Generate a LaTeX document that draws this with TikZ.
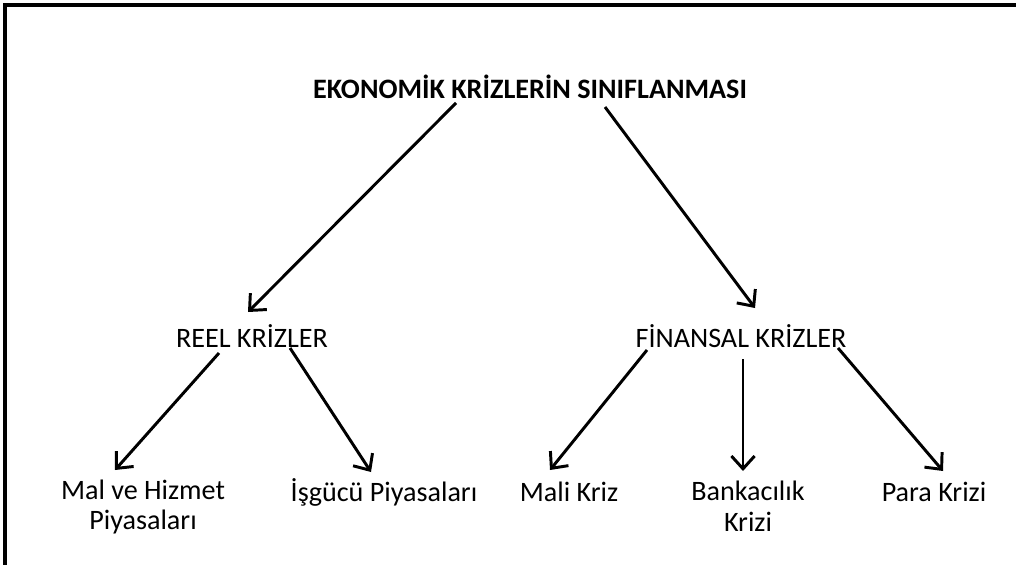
\documentclass[tikz,border=0pt]{standalone}
\usepackage{fontspec}
\setmainfont{Carlito}
\usepackage{tikz}
\usetikzlibrary{calc}
\usetikzlibrary{arrows.meta}

\tikzset{
	etiket/.style={font=\fontsize{20}{22}\selectfont, align=center, inner sep=0pt},
	ok/.style={line width=2.1pt, -{Straight Barb[length=3.2mm,width=5.8mm,line width=2.1pt]}}
}

\begin{document}
\begin{tikzpicture}[x=0.025cm,y=-0.025cm]
%					Cadre :
					\useasboundingbox (0,0) rectangle (1016,564);
					\draw[line width=2.4pt] (5,570) -- (5,5) -- (1020,5);
%					Titre :
					\node[etiket, font=\fontsize{20}{22}\selectfont\bfseries] (baslik) at (530,87) {EKONOMİK KRİZLERİN SINIFLANMASI};
%					Deuxième niveau :
					\node[etiket] (reel) at (252,336) {REEL KRİZLER};
					\node[etiket] (finansal) at (741,336) {FİNANSAL KRİZLER};
%					Troisième niveau :
					\node[etiket] (malhizmet) at (143,507) {Mal ve Hizmet\\Piyasaları};
					\node[etiket] (isgucu) at (384,492) {İşgücü Piyasaları};
					\node[etiket] (malikriz) at (569,492) {Mali Kriz};
					\node[etiket] (bankacilik) at (748,506) {Bankacılık\\Krizi};
					\node[etiket] (parakrizi) at (934,492) {Para Krizi};
%					Flèches :
					\draw[ok] ($(baslik)+(-74,16)$) -- ($(reel)+(-4,-24)$);
					\draw[ok] ($(baslik)+(75,20)$) -- ($(finansal)+(14,-28)$);
					\draw[ok] ($(reel)+(-33,17)$) -- ($(malhizmet)+(-28,-37)$);
					\draw[ok] ($(reel)+(38,12)$) -- ($(isgucu)+(-13,-20)$);
					\draw[ok] ($(finansal)+(-94,14)$) -- ($(malikriz)+(-19,-22)$);
					\draw[ok] ($(finansal)+(2,23)$) -- ($(bankacilik)+(-5,-35)$);
					\draw[ok] ($(finansal)+(97,12)$) -- ($(parakrizi)+(9,-21)$);
				\end{tikzpicture}
\end{document}
